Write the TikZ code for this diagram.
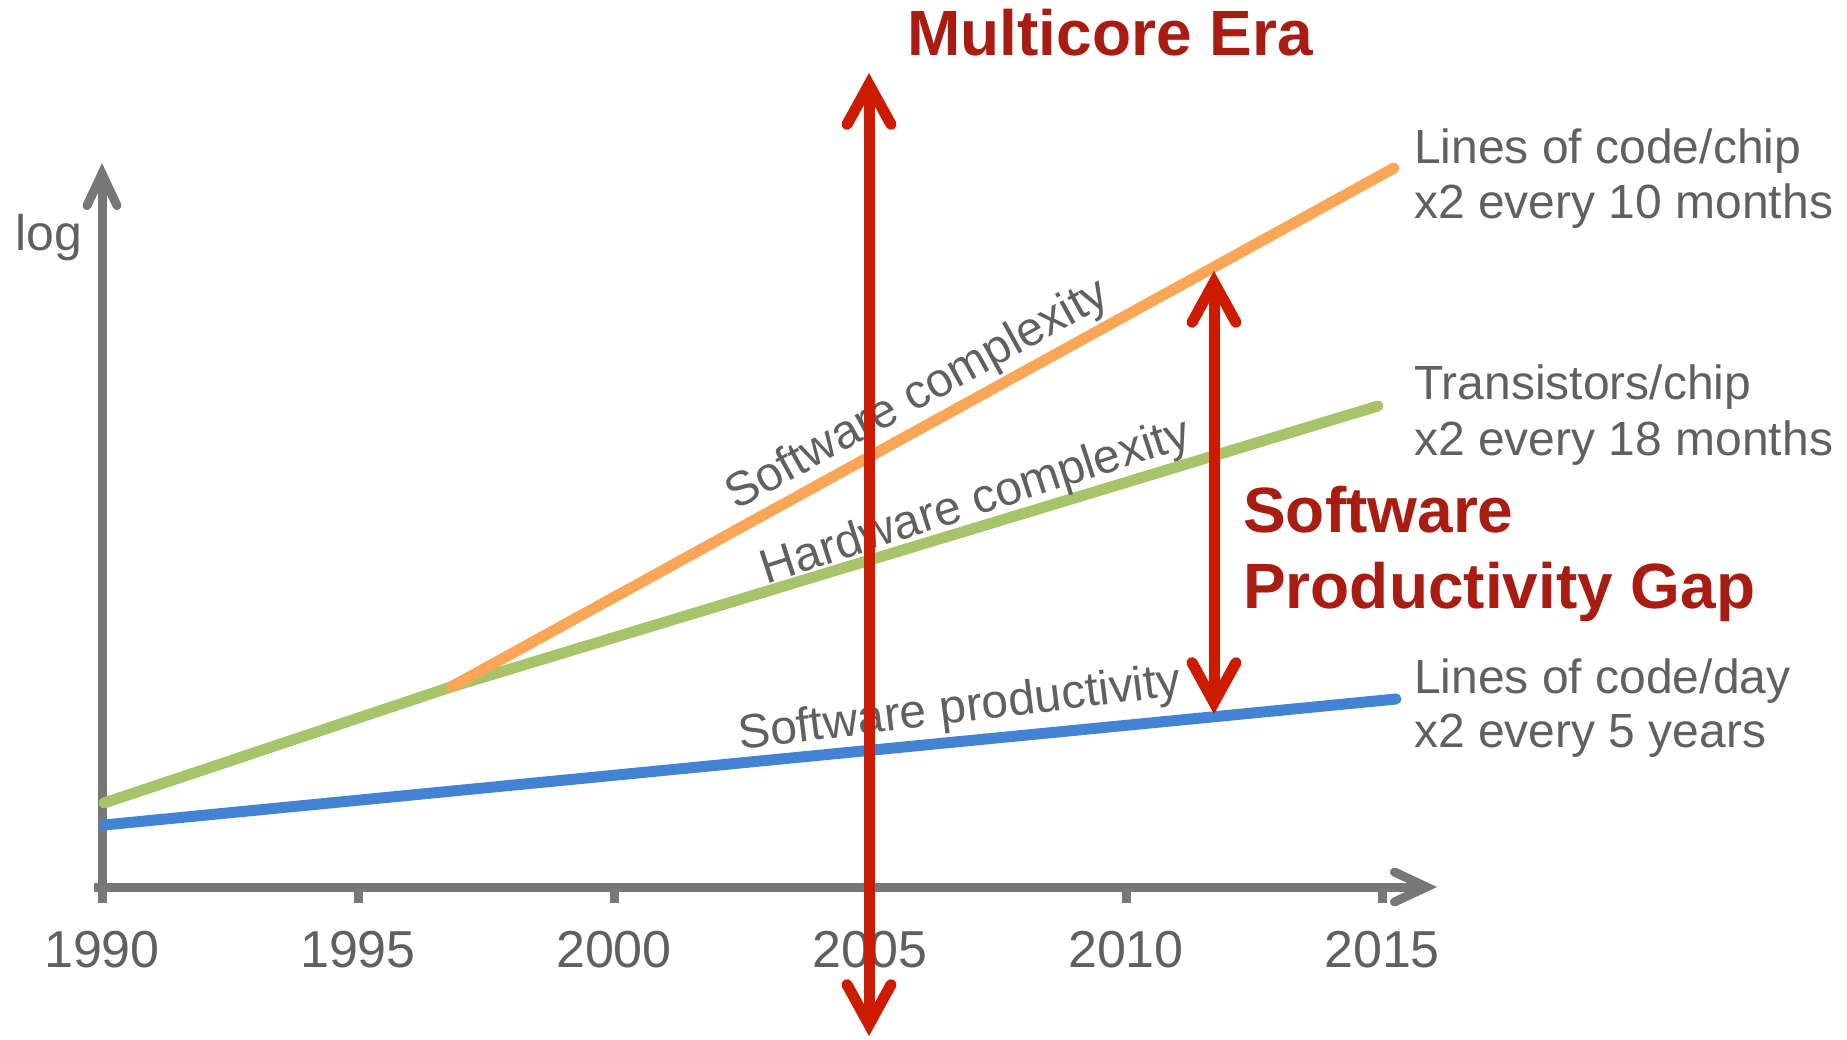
\documentclass[tikz,border=0pt]{standalone}
\usepackage{fontspec}
\setmainfont{Liberation Sans}
\usetikzlibrary{arrows.meta}
\definecolor{cOrange}{HTML}{F9A656}
\definecolor{cGreen}{HTML}{A8C46A}
\definecolor{cBlue}{HTML}{4283D4}
\definecolor{cArrow}{HTML}{CC1B00}
\definecolor{cDark}{HTML}{A81C12}
\definecolor{cText}{HTML}{606060}
\definecolor{cAxis}{HTML}{777777}
\begin{document}
\begin{tikzpicture}[x=1pt,y=-1pt,
  axisline/.style={draw=cAxis,line width=9pt},
  axtip/.style={-{Straight Barb[length=32pt,width=30pt,line cap=round,line join=miter]}},
  curve/.style={line width=11pt,line cap=round,line join=round},
  redarrow/.style={draw=cArrow,line width=11pt,
     {Straight Barb[length=40pt,width=44pt,line cap=round,line join=miter]}-{Straight Barb[length=40pt,width=44pt,line cap=round,line join=miter]}},
  yearlbl/.style={text=cText,font=\fontsize{52}{60}\selectfont,anchor=base,inner sep=0pt},
  sidelbl/.style={text=cText,font=\fontsize{48}{55}\selectfont,anchor=base west,inner sep=0pt},
  curvelbl/.style={text=cText,font=\fontsize{48}{54}\selectfont,inner sep=0pt},
  bigred/.style={text=cDark,font=\fontsize{64}{72}\selectfont\bfseries,anchor=base west,inner sep=0pt}]
\useasboundingbox (0,0) rectangle (1847,1039);

% axes
\coordinate (origin) at (102,887);
\coordinate (xstart) at (94,887);
\coordinate (xend) at (1437,887);
\coordinate (yend) at (102,163);
\draw[axisline,axtip] (xstart) -- (xend);
\draw[axisline,axtip] (origin) -- (yend);
\foreach \i/\yr in {0/1990,1/1995,2/2000,3/2005,4/2010,5/2015}{
  \coordinate (t\i) at ({102+256*\i},887);
  \draw[draw=cAxis,line width=9pt] (t\i) -- ++(0,16);
  \node[yearlbl] (yr\i) at ({102+256*\i},967) {\yr};
}
\node[text=cText,font=\fontsize{50}{56}\selectfont,anchor=base west,inner sep=0pt] (loglbl) at (15,250) {log};

% curves
\coordinate (g0) at (104,803);
\coordinate (g1) at (451,687);
\coordinate (g2) at (1378,406);
\coordinate (o2) at (1394,168);
\coordinate (b0) at (104,825);
\coordinate (b1) at (1396,699);
\draw[curve,draw=cBlue] (b0) -- (b1);
\draw[curve,draw=cGreen] (g0) -- (g1) -- (g2);
\draw[curve,draw=cOrange] (g1) -- (o2);

% curve labels
\node[curvelbl,rotate=29] (swc) at (918,396) {Software complexity};
\node[curvelbl,rotate=18] (hwc) at (976,503) {Hardware complexity};
\node[curvelbl,rotate=7] (swp) at (960,710) {Software productivity};

% arrows
\coordinate (mTop) at (869,73);
\coordinate (mBot) at (869,1036);
\draw[redarrow] (mBot) -- (mTop);
\coordinate (gTop) at (1214,271);
\coordinate (gBot) at (1214,714);
\draw[redarrow] (gBot) -- (gTop);

% big red labels
\node[bigred] (mce) at (907,55) {Multicore Era};
\node[bigred] (spg1) at (1243,532) {Software};
\node[bigred] (spg2) at (1243,608) {Productivity Gap};

% side labels
\node[sidelbl] (l1a) at (1414,163) {Lines of code/chip};
\node[sidelbl] (l1b) at (1414,218) {x2 every 10 months};
\node[sidelbl] (l2a) at (1414,399) {Transistors/chip};
\node[sidelbl] (l2b) at (1414,455) {x2 every 18 months};
\node[sidelbl] (l3a) at (1414,693) {Lines of code/day};
\node[sidelbl] (l3b) at (1414,747) {x2 every 5 years};
\end{tikzpicture}
\end{document}
